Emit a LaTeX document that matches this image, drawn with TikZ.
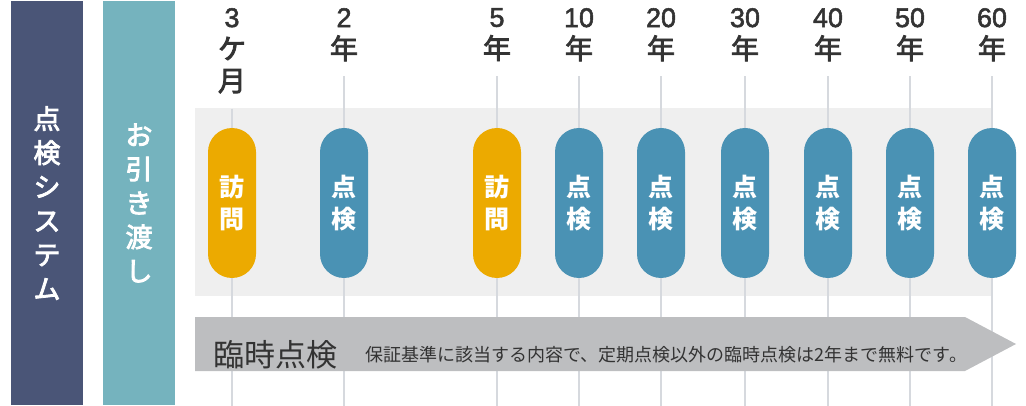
\documentclass[tikz,border=0pt]{standalone}
\usepackage{fontspec}
\setmainfont{Liberation Sans}
\newfontfamily\jp{Noto Sans CJK JP}
\newfontfamily\jpm{Noto Sans CJK JP}[FakeBold=3]
\newfontfamily\numf{Liberation Sans}[FakeBold=2]
\usetikzlibrary{positioning}

\definecolor{sysblue}{HTML}{4A5577}
\definecolor{handteal}{HTML}{75B3BE}
\definecolor{bandgray}{HTML}{EFEFEF}
\definecolor{tickgray}{HTML}{D6D9DE}
\definecolor{visitorange}{HTML}{ECAA00}
\definecolor{checkblue}{HTML}{4A92B4}
\definecolor{arrowgray}{HTML}{BDBEC0}
\definecolor{textdark}{HTML}{333333}

\newcommand{\yk}[1]{{\jpm\fontsize{28}{32}\selectfont #1}}

\begin{document}
\begin{tikzpicture}[
    x=1pt, y=-1pt,
    bar/.style={minimum width=72pt, minimum height=404pt, inner sep=0pt,
        align=center, text=white, font=\jpm\fontsize{27}{34}\selectfont},
    year/.style={anchor=north, inner sep=0pt, align=center, text=textdark,
        font=\numf\fontsize{27}{32}\selectfont},
    tick/.style={tickgray, line width=1.2pt},
    pill/.style={minimum width=48pt, minimum height=150pt, rounded corners=24pt,
        inner sep=0pt, align=center, text=white, font=\jp\bfseries\fontsize{25}{32}\selectfont},
    visit/.style={pill, fill=visitorange},
    check/.style={pill, fill=checkblue}
]
\useasboundingbox (0,0) rectangle (1026,406);

% left columns
\node[bar, fill=sysblue] (sys) at (47,203) {点\\検\\シ\\ス\\テ\\ム};
\node[bar, fill=handteal] (hand) at (139,203) {お\\引\\き\\渡\\し};

% background band
\fill[bandgray] (195,108) rectangle (992,296);

% time labels
\node[year] (t1) at (232,8) {3\\\yk{ケ}\\\yk{月}};
\node[year] (t2) at (344,8) {2\\\yk{年}};
\node[year] (t3) at (497,8) {5\\\yk{年}};
\node[year] (t4) at (579,8) {10\\\yk{年}};
\node[year] (t5) at (661,8) {20\\\yk{年}};
\node[year] (t6) at (745,8) {30\\\yk{年}};
\node[year] (t7) at (828,8) {40\\\yk{年}};
\node[year] (t8) at (910,8) {50\\\yk{年}};
\node[year] (t9) at (992,8) {60\\\yk{年}};

\coordinate (base) at (0,406);
\foreach \i in {1,...,9}
    \draw[tick] ([yshift=-15pt]t\i.south) -- (t\i |- base);

% inspections
\node[visit] (p1) at (232,203) {訪\\問};
\node[check] (p2) at (344,203) {点\\検};
\node[visit] (p3) at (497,203) {訪\\問};
\node[check] (p4) at (579,203) {点\\検};
\node[check] (p5) at (661,203) {点\\検};
\node[check] (p6) at (745,203) {点\\検};
\node[check] (p7) at (828,203) {点\\検};
\node[check] (p8) at (910,203) {点\\検};
\node[check] (p9) at (992,203) {点\\検};

% temporary inspection arrow
\fill[arrowgray] (195,317) -- (965,317) -- (1016,344) -- (965,371) -- (195,371) -- cycle;
\node[anchor=west, inner sep=0pt, text=textdark, font=\jp\fontsize{31}{34}\selectfont]
    (tmp) at (213,355) {臨時点検};
\node[anchor=west, inner sep=0pt, text=textdark, font=\jp\fontsize{18}{20}\selectfont,
    right=28pt of tmp.east] (note) {保証基準に該当する内容で、定期点検以外の臨時点検は2年まで無料です。};

\end{tikzpicture}
\end{document}
